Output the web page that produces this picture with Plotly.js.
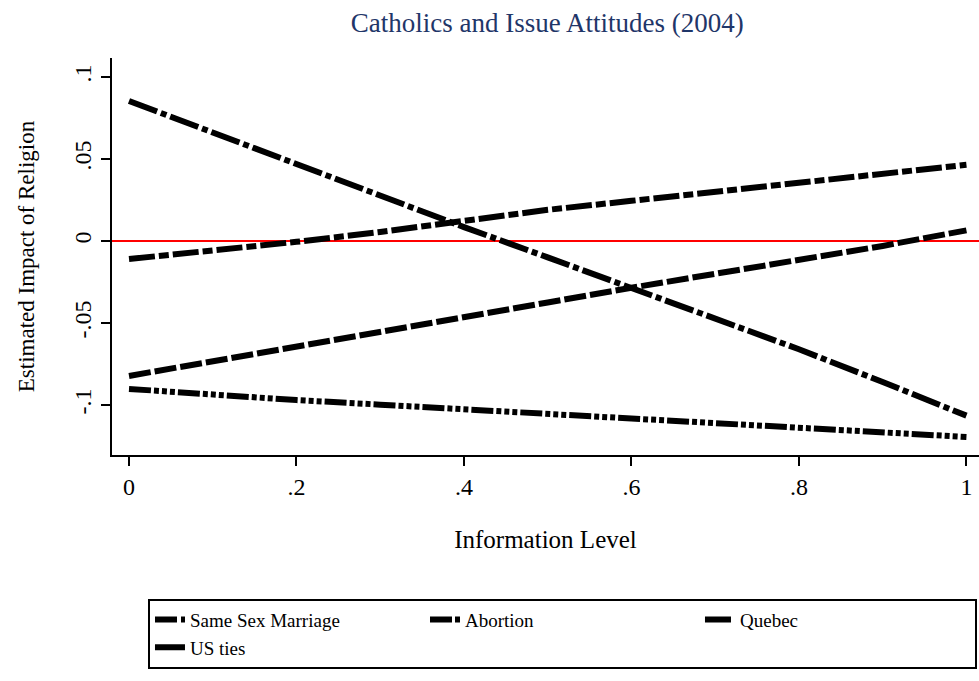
<!DOCTYPE html>
<html>
<head>
<meta charset="utf-8">
<script src="https://cdn.plot.ly/plotly-3.0.1.min.js"></script>
<style>html,body{margin:0;padding:0;background:#fff;}#chart{width:979px;height:681px;}</style>
</head>
<body>
<div id="chart"></div>
<script>
// Information level grid
const infoLevel = [0, 0.1, 0.2, 0.3, 0.4, 0.5, 0.6, 0.7, 0.8, 0.9, 1.0];
// Estimated impact of religion by issue
const sameSexMarriage = [-0.0823, -0.0735, -0.0645, -0.0555, -0.0465, -0.0375, -0.0285, -0.0200, -0.0115, -0.0030, 0.0065];
const abortion = [-0.0902, -0.0940, -0.0970, -0.0998, -0.1025, -0.1053, -0.1080, -0.1110, -0.1138, -0.1165, -0.1195];
const quebec = [-0.0110, -0.0060, -0.0005, 0.0055, 0.0125, 0.0190, 0.0245, 0.0300, 0.0355, 0.0410, 0.0465];
const usTies = [0.0854, 0.0660, 0.0465, 0.0270, 0.0085, -0.0100, -0.0288, -0.0470, -0.0660, -0.0860, -0.1065];

const seriesNames = ["Same Sex Marriage", "Abortion", "Quebec", "US ties"];
const xTickVals = [0, 0.2, 0.4, 0.6, 0.8, 1];
const xTickText = ["0", ".2", ".4", ".6", ".8", "1"];
const yTickVals = [-0.1, -0.05, 0, 0.05, 0.1];
const yTickText = ["-.1", "-.05", "0", ".05", ".1"];

const dashes = [
  "22px,4px",
  "22px,3px,5px,3px,5px,3px,5px,3px",
  "26px,4px,10px,4px",
  "30px,4px,6px,4px"
];
const seriesData = [sameSexMarriage, abortion, quebec, usTies];

const traces = seriesData.map((ys, i) => ({
  x: infoLevel, y: ys, type: "scatter", mode: "lines", name: seriesNames[i],
  line: {color: "#000", width: 6, dash: dashes[i]}
}));

const serif = "Liberation Serif, Times New Roman, serif";
const layout = {
  width: 979, height: 681,
  paper_bgcolor: "#fff", plot_bgcolor: "#fff",
  margin: {l: 112, r: 0, t: 58, b: 226, autoexpand: false},
  title: {text: "Catholics and Issue Attitudes (2004)", font: {family: serif, size: 27, color: "#1f3669"}, x: 0.559, xanchor: "center", y: 0.967, yanchor: "middle"},
  showlegend: true,
  legend: {
    orientation: "h", x: 0.0415, xanchor: "left", y: -0.362, yanchor: "top",
    bordercolor: "#000", borderwidth: 2, bgcolor: "#fff",
    font: {family: serif, size: 19, color: "#000"},
    entrywidth: 230, entrywidthmode: "pixels", tracegroupgap: 0, itemwidth: 30
  },
  xaxis: {
    range: [-0.0203, 1.015], tickvals: xTickVals, ticktext: xTickText,
    showgrid: false, zeroline: false, showline: true, linecolor: "#000", linewidth: 2,
    ticks: "outside", ticklen: 9, tickwidth: 2, tickcolor: "#000",
    tickfont: {family: serif, size: 24, color: "#000"},
    title: {text: "Information Level", font: {family: serif, size: 25, color: "#000"}, standoff: 32}
  },
  yaxis: {
    range: [-0.1305, 0.1116], tickvals: yTickVals, ticktext: yTickText, tickangle: -90,
    showgrid: false, zeroline: false, showline: true, linecolor: "#000", linewidth: 2,
    ticks: "outside", ticklen: 9, tickwidth: 2, tickcolor: "#000",
    tickfont: {family: serif, size: 24, color: "#000"},
    title: {text: "Estimated Impact of Religion", font: {family: serif, size: 23, color: "#000"}, standoff: 29}
  },
  shapes: [{type: "line", xref: "paper", x0: 0, x1: 1, yref: "y", y0: 0, y1: 0, line: {color: "#ff0000", width: 2}, layer: "below"}]
};

Plotly.newPlot("chart", traces, layout, {displayModeBar: false, staticPlot: true});
</script>
</body>
</html>
